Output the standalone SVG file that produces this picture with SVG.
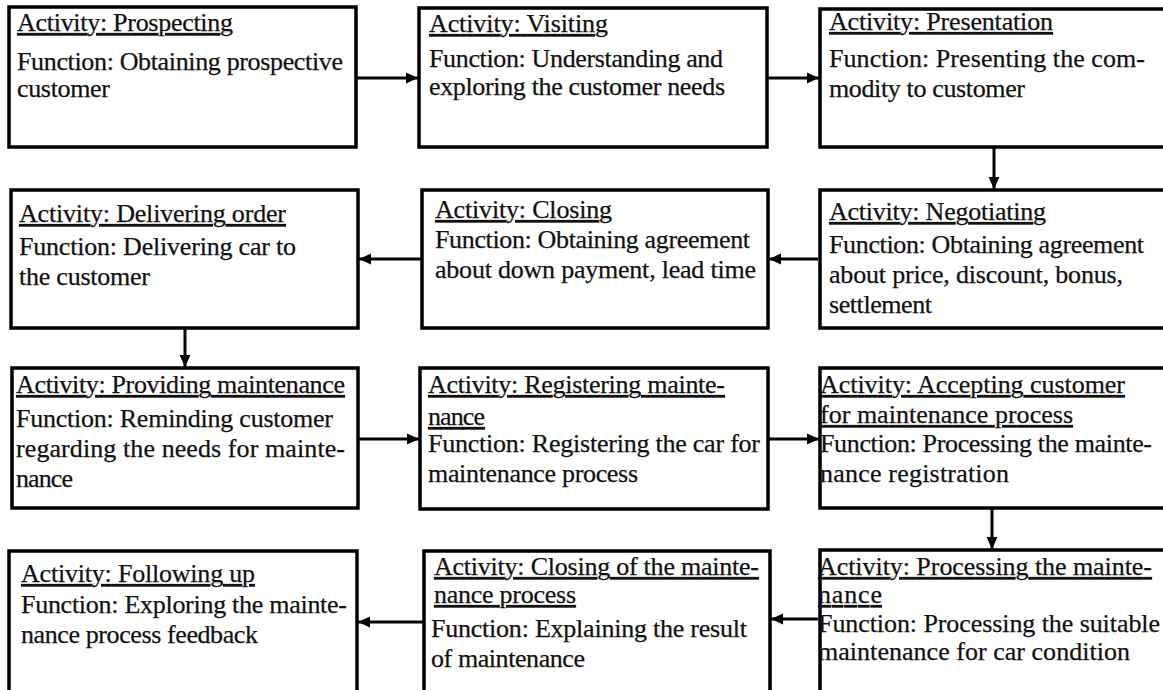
<svg xmlns="http://www.w3.org/2000/svg" width="1163" height="690" viewBox="0 0 1163 690">
  <style>
    .box { fill: #fff; stroke: #000; stroke-width: 3.5; }
    text { font-family: 'Liberation Serif', 'Times New Roman', Times, serif; font-size: 26px; fill: #111; stroke: #111; stroke-width: 0.25; }
    .u { text-decoration: underline; }
    .link { stroke: #000; stroke-width: 3; fill: none; marker-end: url(#head); }
  </style>
  <defs>
    <marker id="head" markerUnits="userSpaceOnUse" markerWidth="14" markerHeight="14" refX="12" refY="7" orient="auto">
      <path d="M0,1.5 L12,7 L0,12.5 Z" fill="#000"/>
    </marker>
  </defs>

  <rect width="1163" height="690" fill="#fff"/>

  <g font-family="Liberation Serif, Times New Roman, serif" font-size="26">
  <!-- row 1 -->
  <g id="prospecting">
    <rect class="box" x="9" y="7" width="347" height="140"/>
    <text class="u" x="17" y="31" textLength="216">Activity: Prospecting</text>
    <text x="17" y="70" textLength="326">Function: Obtaining prospective</text>
    <text x="17" y="97" textLength="93">customer</text>
  </g>
  <g id="visiting">
    <rect class="box" x="419" y="8" width="348" height="139"/>
    <text class="u" x="429" y="32" textLength="179">Activity: Visiting</text>
    <text x="429" y="67" textLength="294">Function: Understanding and</text>
    <text x="429" y="95" textLength="296">exploring the customer needs</text>
  </g>
  <g id="presentation">
    <rect class="box" x="820" y="9" width="360" height="138"/>
    <text class="u" x="829" y="30" textLength="224">Activity: Presentation</text>
    <text x="829" y="67" textLength="316">Function: Presenting the com-</text>
    <text x="829" y="97" textLength="196">modity to customer</text>
  </g>

  <!-- row 2 -->
  <g id="negotiating">
    <rect class="box" x="820" y="190" width="360" height="138"/>
    <text class="u" x="829" y="220" textLength="217">Activity: Negotiating</text>
    <text x="829" y="253" textLength="315">Function: Obtaining agreement</text>
    <text x="829" y="283" textLength="294">about price, discount, bonus,</text>
    <text x="829" y="313" textLength="103">settlement</text>
  </g>
  <g id="closing">
    <rect class="box" x="422" y="190" width="346" height="138"/>
    <text class="u" x="435" y="218" textLength="177">Activity: Closing</text>
    <text x="435" y="248" textLength="315">Function: Obtaining agreement</text>
    <text x="435" y="278" textLength="321">about down payment, lead time</text>
  </g>
  <g id="delivering-order">
    <rect class="box" x="11" y="190" width="347" height="138"/>
    <text class="u" x="19" y="222" textLength="267">Activity: Delivering order</text>
    <text x="19" y="255" textLength="277">Function: Delivering car to</text>
    <text x="19" y="285" textLength="131">the customer</text>
  </g>

  <!-- row 3 -->
  <g id="providing-maintenance">
    <rect class="box" x="12" y="368" width="346" height="140"/>
    <text class="u" x="16" y="393" textLength="329">Activity: Providing maintenance</text>
    <text x="16" y="427" textLength="317">Function: Reminding customer</text>
    <text x="16" y="457" textLength="329">regarding the needs for mainte-</text>
    <text x="16" y="487" textLength="57">nance</text>
  </g>
  <g id="registering-maintenance">
    <rect class="box" x="420" y="368" width="348" height="141"/>
    <text class="u" x="428" y="393" textLength="297">Activity: Registering mainte-</text>
    <text class="u" x="428" y="425" textLength="57">nance</text>
    <text x="428" y="452" textLength="332">Function: Registering the car for</text>
    <text x="428" y="482" textLength="210">maintenance process</text>
  </g>
  <g id="accepting-customer">
    <rect class="box" x="820" y="368" width="360" height="140"/>
    <text class="u" x="820" y="393" textLength="305">Activity: Accepting customer</text>
    <text class="u" x="820" y="423" textLength="253">for maintenance process</text>
    <text x="820" y="452" textLength="332">Function: Processing the mainte-</text>
    <text x="820" y="482" textLength="189">nance registration</text>
  </g>

  <!-- row 4 -->
  <g id="processing-maintenance">
    <rect class="box" x="820" y="550" width="360" height="160"/>
    <text class="u" x="818" y="575" textLength="334">Activity: Processing the mainte-</text>
    <text class="u" x="818" y="603" textLength="64">nance</text>
    <text x="818" y="632" textLength="342">Function: Processing the suitable</text>
    <text x="818" y="660" textLength="312">maintenance for car condition</text>
  </g>
  <g id="closing-maintenance">
    <rect class="box" x="424" y="551" width="346" height="160"/>
    <text class="u" x="434" y="575" textLength="325">Activity: Closing of the mainte-</text>
    <text class="u" x="434" y="603" textLength="142">nance process</text>
    <text x="431" y="637" textLength="316">Function: Explaining the result</text>
    <text x="431" y="667" textLength="154">of maintenance</text>
  </g>
  <g id="following-up">
    <rect class="box" x="9" y="551" width="348" height="160"/>
    <text class="u" x="21" y="582" textLength="234">Activity: Following up</text>
    <text x="21" y="613" textLength="326">Function: Exploring the mainte-</text>
    <text x="21" y="643" textLength="237">nance process feedback</text>
  </g>
  </g>

  <!-- connectors -->
  <g id="connectors">
    <line class="link" x1="357" y1="78" x2="418" y2="78"/>
    <line class="link" x1="768" y1="78" x2="819" y2="78"/>
    <line class="link" x1="994" y1="148" x2="994" y2="189"/>
    <line class="link" x1="818" y1="259" x2="769" y2="259"/>
    <line class="link" x1="421" y1="259" x2="359" y2="259"/>
    <line class="link" x1="185" y1="329" x2="185" y2="367"/>
    <line class="link" x1="359" y1="439" x2="419" y2="439"/>
    <line class="link" x1="768" y1="439" x2="819" y2="439"/>
    <line class="link" x1="992" y1="509" x2="992" y2="549"/>
    <line class="link" x1="818" y1="619" x2="771" y2="619"/>
    <line class="link" x1="423" y1="622" x2="358" y2="622"/>
  </g>
</svg>
